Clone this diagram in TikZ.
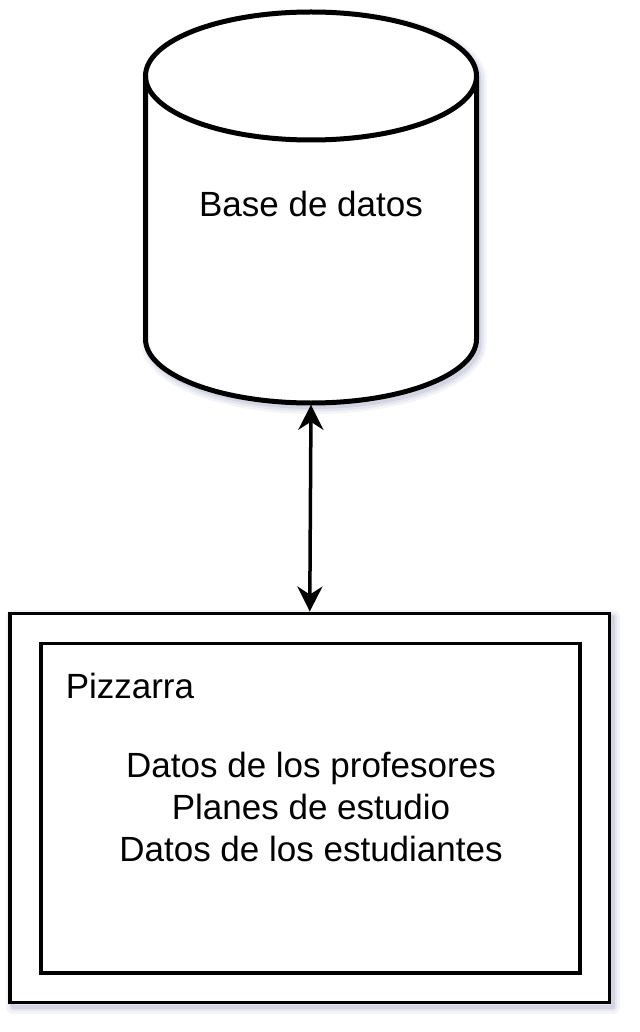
\documentclass[tikz,border=0pt]{standalone}
\usepackage{fontspec}
\setmainfont{Liberation Sans}
\usetikzlibrary{arrows.meta}
\definecolor{line_black}{RGB}{0,0,0}
\definecolor{shadow_blue}{RGB}{140,146,180}

\begin{document}
\begin{tikzpicture}[>={Stealth[length=25pt,width=25pt,inset=8pt]},line width=3.5pt,x=1pt,y=-1pt]
    \tikzstyle{shade}=[preaction={draw=shadow_blue,draw opacity=0.10,line width=14pt,line join=round,transform canvas={xshift=3pt,yshift=-4pt}},
                       preaction={draw=shadow_blue,draw opacity=0.14,line width=9pt,line join=round,transform canvas={xshift=3pt,yshift=-4pt}},
                       preaction={draw=shadow_blue,draw opacity=0.20,line width=4pt,line join=round,transform canvas={xshift=3pt,yshift=-4pt}}]
    \tikzstyle{dbline}=[draw=line_black, line width=5pt]
    \tikzstyle{dbframe}=[rectangle, minimum width=331pt, minimum height=391pt, inner sep=0pt, text depth=7pt, font=\fontsize{35}{42}\selectfont]
    \tikzstyle{box}=[draw=line_black, rectangle, inner sep=0pt, fill=white, line width=3.5pt]
    \tikzstyle{label}=[font=\fontsize{35}{42}\selectfont, inner sep=0pt]

    \useasboundingbox (0,0) rectangle (639,1032);
    % cylinder body
    \path[dbline, fill=white, shade] (145.5,76) arc[start angle=180, end angle=0, x radius=165.5pt, y radius=64pt]
        -- (476.5,339) arc[start angle=0, end angle=-180, x radius=165.5pt, y radius=64pt] -- cycle;
    \draw[dbline] (145.5,76) arc[start angle=180, end angle=360, x radius=165.5pt, y radius=64pt];
    \node[dbframe] (db) at (311,207.5) {Base de datos};

    \node[box, shade, minimum width=599.5pt, minimum height=389.4pt] (board) at (309.75,808) {};
    \node[box, minimum width=539pt, minimum height=329.7pt] (list) at (310.5,808.2) {};
    \node[label, anchor=base west] (title) at (64,698) {Pizzarra};
    \node[label, align=center] (items) at (311,807) {Datos de los profesores\\Planes de estudio\\Datos de los estudiantes};
    \path
     (board.north) edge[<->] (db.south)
     ;
\end{tikzpicture}
\end{document}
